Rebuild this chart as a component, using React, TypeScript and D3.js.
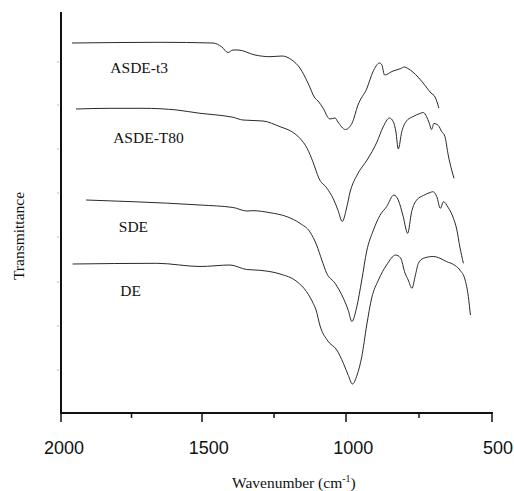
import React from 'react';
import * as d3 from 'd3';

// FTIR spectra (wavenumber cm-1, transmittance a.u.)
const asdeT3Wn = [1961, 1791, 1649, 1462, 1431, 1410, 1392, 1375, 1316, 1264, 1222, 1188, 1160, 1132, 1108, 1097, 1080, 1056, 1038, 1028, 1002, 979, 959, 928, 908, 885, 877, 868, 839, 812, 801, 788, 771, 736, 709, 695, 682];
const asdeT3T = [37.0, 37.05, 37.07, 37.0, 36.6, 36.05, 36.3, 36.3, 35.8, 35.63, 35.7, 35.3, 34.5, 33.0, 31.5, 31.2, 30.5, 29.4, 29.5, 29.1, 28.35, 29.0, 30.8, 32.5, 34.1, 35.0, 34.8, 33.8, 34.2, 34.45, 34.6, 34.45, 34.1, 33.0, 32.0, 31.6, 30.5];

const asdeT80Wn = [1947, 1826, 1709, 1589, 1507, 1448, 1392, 1358, 1288, 1229, 1188, 1160, 1135, 1115, 1094, 1066, 1045, 1028, 1013, 998, 986, 962, 928, 894, 873, 851, 838, 829, 821, 809, 793, 771, 747, 735, 724, 715, 707, 699, 684, 672, 661, 650, 638, 630];
const asdeT80T = [30.4, 30.47, 30.47, 30.3, 29.97, 29.8, 29.57, 29.3, 29.2, 28.63, 28.13, 27.47, 26.47, 25.13, 23.47, 22.47, 21.47, 20.3, 19.15, 20.5, 22.1, 23.8, 25.3, 27.1, 28.6, 29.5, 29.13, 28.1, 26.4, 28.13, 29.2, 29.63, 29.95, 30.05, 29.63, 29.0, 28.35, 28.95, 28.75, 28.13, 27.63, 25.8, 24.3, 23.47];

const sdeWn = [1911, 1745, 1507, 1392, 1344, 1323, 1264, 1205, 1160, 1125, 1102, 1084, 1067, 1038, 1009, 992, 980, 963, 946, 929, 906, 884, 861, 836, 821, 804, 789, 775, 758, 735, 712, 703, 689, 677, 666, 650, 632, 621, 610, 598];
const sdeT = [21.3, 21.13, 20.8, 20.55, 20.2, 20.23, 20.03, 19.63, 18.97, 18.1, 16.8, 15.3, 13.97, 12.97, 11.47, 10.25, 9.15, 10.63, 13.3, 16.2, 18.3, 19.75, 20.63, 21.8, 21.3, 19.63, 17.97, 20.15, 21.3, 21.75, 22.05, 22.13, 21.63, 20.47, 21.13, 20.55, 19.47, 18.4, 16.6, 14.97];

const deWn = [1959, 1660, 1507, 1403, 1345, 1299, 1229, 1170, 1137, 1114, 1104, 1090, 1063, 1032, 1009, 992, 978, 962, 946, 929, 912, 889, 861, 830, 813, 798, 787, 774, 763, 752, 735, 701, 678, 655, 632, 610, 592, 581, 574];
const deT = [14.9, 14.97, 14.65, 14.8, 14.35, 14.27, 13.9, 13.13, 12.13, 10.97, 10.3, 8.7, 7.2, 6.3, 4.97, 3.75, 2.9, 3.8, 5.63, 8.8, 11.5, 13.3, 14.8, 15.8, 15.5, 14.0, 13.3, 12.47, 13.7, 14.97, 15.47, 15.65, 15.47, 15.13, 14.85, 14.3, 13.3, 11.63, 9.8];

const seriesNames = ['ASDE-t3', 'ASDE-T80', 'SDE', 'DE'];
// label anchor: wavenumber and transmittance of text baseline start
const labelWn = [1825, 1815, 1795, 1790];
const labelT = [34.0, 27.0, 18.1, 11.7];

const majorTicks = [2000, 1500, 1000, 500];
const minorTicks = [1750, 1250, 750];
const yTickVals = [35.1, 30.8, 26.4, 22.0, 17.6, 13.1, 8.7, 4.3];

const W = 514;
const H = 491;

export default function App() {
  const x = d3.scaleLinear().domain([2000, 1500, 1000, 500]).range([61, 202, 346, 492]);
  const xLabel = d3.scaleLinear().domain([2000, 500]).range([64, 498]);
  const y = d3.scaleLinear().domain([0, 40]).range([413, 13]);

  const line = d3
    .line<[number, number]>()
    .x(d => x(d[0]))
    .y(d => y(d[1]))
    .curve(d3.curveMonotoneX);

  const series = [
    d3.zip(asdeT3Wn, asdeT3T),
    d3.zip(asdeT80Wn, asdeT80T),
    d3.zip(sdeWn, sdeT),
    d3.zip(deWn, deT),
  ] as [number, number][][];

  const serif = '"Liberation Serif", "Times New Roman", serif';
  const sans = '"Liberation Sans", Arial, sans-serif';
  const y0 = y(0);

  return (
    <svg width={W} height={H} style={{ position: 'absolute', left: 0, top: 0, background: '#fff' }}>
      {/* faint y ticks */}
      {yTickVals.map(v => (
        <line key={v} x1={57} x2={59} y1={y(v)} y2={y(v)} stroke="#bbb" strokeWidth={1} />
      ))}

      {/* spectra */}
      {series.map((s, i) => (
        <path key={i} d={line(s) || ''} fill="none" stroke="#2a2a2a" strokeWidth={1} />
      ))}

      {seriesNames.map((n, i) => (
        <text key={n} x={x(labelWn[i])} y={y(labelT[i])} fontFamily={serif} fontSize={15.5} fill="#111">
          {n}
        </text>
      ))}

      {/* axes */}
      <line x1={61} x2={61} y1={12} y2={y0 + 1} stroke="#111" strokeWidth={2} />
      <line x1={60} x2={x(500) + 1} y1={y0} y2={y0} stroke="#111" strokeWidth={2} />
      {majorTicks.map(t => (
        <line key={t} x1={x(t)} x2={x(t)} y1={y0} y2={y0 + 9} stroke="#111" strokeWidth={1.5} />
      ))}
      {minorTicks.map(t => (
        <line key={t} x1={x(t)} x2={x(t)} y1={y0} y2={y0 + 5} stroke="#111" strokeWidth={1.5} />
      ))}
      {majorTicks.map(t => (
        <text key={t} x={xLabel(t)} y={454} textAnchor="middle" fontFamily={sans} fontSize={18} fill="#111">
          {t}
        </text>
      ))}

      <text x={232} y={488} fontFamily={serif} fontSize={15.5} fill="#111">
        Wavenumber (cm<tspan dy={-6} fontSize={10}>-1</tspan><tspan dy={6}>)</tspan>
      </text>
      <text
        transform="translate(24,236) rotate(-90)"
        textAnchor="middle"
        fontFamily={serif}
        fontSize={15.5}
        fill="#111"
      >
        Transmittance
      </text>
    </svg>
  );
}
